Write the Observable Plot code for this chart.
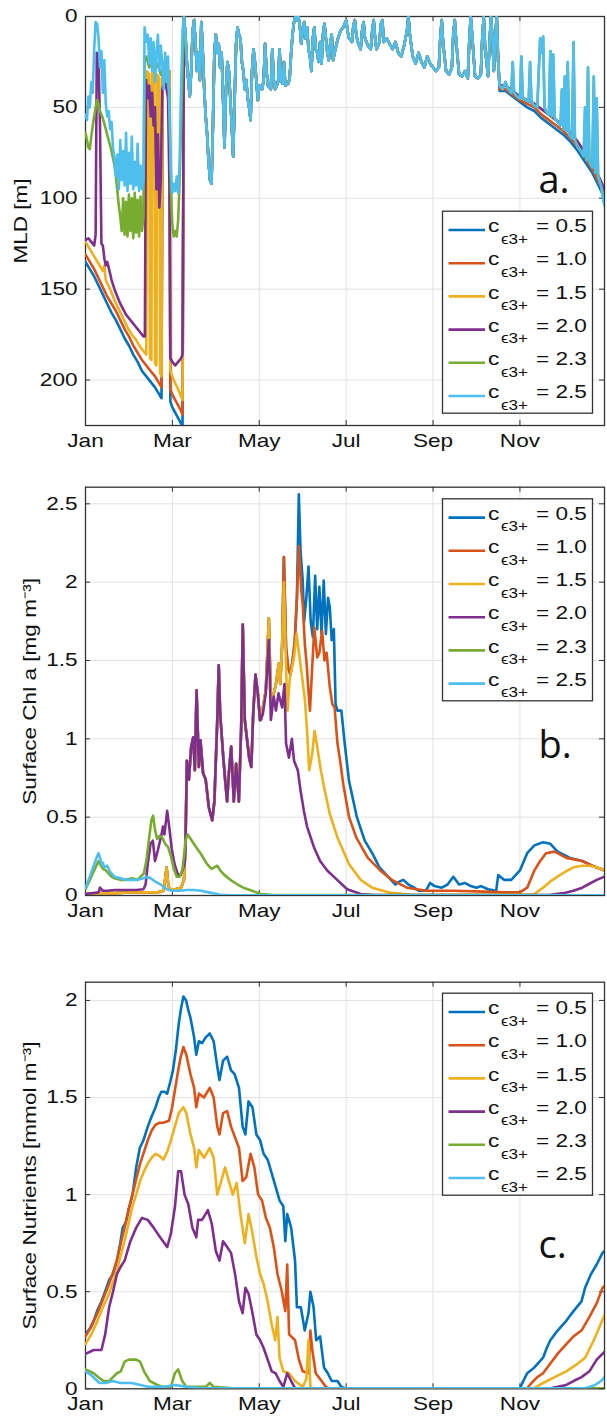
<!DOCTYPE html>
<html><head><meta charset="utf-8">
<script src="https://cdn.jsdelivr.net/npm/d3@7"></script>
<script src="https://cdn.jsdelivr.net/npm/@observablehq/plot@0.6"></script>
<style>
body{margin:0;background:#fff}
#chart{width:607px}
#chart svg{display:block}
</style>
</head><body><div id="chart"></div>
<script>
// ---------- shared axis / legend content ----------
const xTickDays = [0, 60, 120, 180, 240, 300];
const xTickLabels = ["Jan", "Mar", "May", "Jul", "Sep", "Nov"];
const seriesLabels = ["0.5", "1.0", "1.5", "2.0", "2.3", "2.5"];
const seriesColors = ["#0072BD", "#D95319", "#EDB120", "#7E2F8E", "#77AC30", "#4DBEEE"];

// ---------- panel a: MLD [m] (day, value) ----------
const mldEarly05 = [[0,135],[3,139],[6,143],[9,148],[12,153],[15,158],[18,163],[21,167],[24,172],[27,177],[30,181],[33,186],[36,190],[39,195],[42,198],[45,201],[48,204],[51,208],[52.5,210],[53.2,30],[58,30],[58.6,212],[60,215],[62,218],[64,221],[66,224],[67,225]];
const mldEarly10 = [[0,131],[3,135],[6,139],[9,144],[12,149],[15,154],[18,158],[21,162],[24,167],[27,172],[30,176],[33,181],[36,185],[39,189],[42,192],[45,195],[48,198],[51,202],[52.5,204],[53.2,30],[58,30],[58.6,205],[60,208],[62,211],[64,214],[66,217],[67,219]];
const mldEarly15 = [[0,124],[3,128],[6,132],[9,136],[12,140],[13,137],[14,145],[17,150],[20,156],[23,161],[26,166],[29,171],[32,175],[35,178],[38,182],[41,185],[42,186],[42.5,30],[44,32],[44.5,188],[45.5,189],[46,30],[47.5,33],[48,191],[49,192],[49.5,32],[51,34],[51.5,196],[52.5,198],[53.2,30],[58,30],[58.6,195],[60,198],[62,202],[64,205],[66,209],[67,211]];
const mldEarly20 = [[0,123],[2,122],[4,124],[6,126],[7,120],[7.8,20],[9,22],[10,60],[11,125],[12,126],[13,133],[14,137],[15,135],[16,138],[18,145],[20,150],[22,154],[24,158],[26,161],[28,164],[30,166],[32,168],[34,170],[36,172],[38,174],[40,176],[41,176],[41.8,35],[43,45],[44,38],[45,55],[46,42],[47,60],[48,50],[49,95],[50,65],[51,105],[52,90],[53,40],[55,35],[57,45],[58,95],[58.6,188],[60,190],[62,192],[64,190],[66,188],[67,186]];
const mldEarly23 = [[0,64],[1,68],[2,72],[3,73],[4,66],[5,60],[6,55],[7,50],[8,46],[9,48],[10,52],[12,56],[14,62],[16,68],[18,74],[20,82],[21,88],[22,96],[23,104],[24,110],[25,118],[26,100],[27,120],[28,102],[29,121],[30,98],[31,118],[32,100],[33,122],[34,97],[35,119],[36,101],[37,121],[38,99],[39,118],[40,110],[40.8,25],[42,22],[44,28],[46,24],[48,30],[50,26],[52,32],[54,28],[56,34],[58,40],[59,95],[60,115],[61,121],[62,118],[63,121],[64,112],[65,90],[66,60],[67,30]];
const mldEarly25 = [[0,54],[1,57],[2,44],[3,50],[4,36],[5,42],[6,18],[7,3],[8,4],[9,12],[10,28],[11,19],[12,42],[13,24],[14,48],[15,55],[16,52],[17,62],[18,58],[19,72],[20,78],[21,88],[22,76],[23,95],[24,68],[25,90],[26,74],[27,93],[28,64],[29,96],[30,75],[31,92],[32,66],[33,95],[34,80],[35,93],[36,70],[37,96],[38,82],[39,95],[40,90],[40.8,6],[42,14],[43,10],[44,26],[45,12],[46,30],[47,14],[48,36],[49,20],[50,10],[51,30],[52,16],[53,26],[54,40],[55,20],[56,36],[57,22],[58,55],[59,85],[60,97],[61,92],[62,96],[63,88],[64,97],[65,80],[66,40],[67,8]];
const mldSummer = [[68,0],[69,10],[70,25],[71,35],[72,44],[73,30],[74,8],[75,2],[76,15],[77,30],[78,20],[79,35],[80,3],[81,20],[82,40],[83,55],[84,65],[85,80],[86,90],[87,92],[88,60],[89,20],[90,10],[91,20],[92,15],[93,28],[94,20],[95,45],[96,72],[97,40],[98,25],[99,30],[100,45],[101,60],[102,77],[103,45],[104,15],[105,6],[106,10],[107,12],[108,25],[109,30],[110,40],[111,35],[112,45],[113,50],[114,57],[115,30],[116,18],[117,25],[118,35],[119,46],[120,38],[122,40],[123,35],[124,15],[125,30],[126,38],[128,40],[129,18],[130,35],[131,40],[133,36],[134,18],[135,35],[136,37],[137,25],[138,38],[140,37],[141,34],[142,20],[143,10],[144,3],[145,0],[146,2],[147,0],[148,5],[149,15],[150,8],[151,3],[152,12],[153,6],[154,18],[155,22],[156,30],[157,12],[158,6],[159,18],[160,20],[161,25],[162,14],[163,26],[164,10],[165,4],[166,12],[167,20],[168,24],[169,15],[170,10],[171,24],[172,20],[174,13],[176,8],[178,6],[180,2],[181,8],[182,12],[184,14],[185,5],[186,2],[187,10],[188,14],[190,18],[191,8],[192,3],[193,12],[195,16],[197,18],[198,8],[199,2],[200,12],[201,18],[203,14],[204,4],[205,2],[206,14],[208,12],[210,15],[212,18],[214,14],[216,20],[218,22],[220,16],[222,8],[223,0],[224,10],[226,22],[228,26],[230,20],[232,25],[234,28],[236,22],[238,26],[240,28],[242,30],[244,28],[245,12],[246,2],[247,15],[249,30],[251,32],[253,28],[254,10],[255,2],[256,14],[258,32],[260,33],[262,30],[264,34],[265,14],[266,0],[267,10],[269,33],[271,34],[273,32],[274,12],[275,0],[276,18],[278,33],[279,15],[280,0],[281,12],[282,30],[283,10],[284,0],[285,25]];
const mldAutumnCyan = [[286,38],[288,40],[290,36],[292,40],[294,42],[295,25],[296,42],[298,44],[300,45],[301,22],[302,45],[304,46],[306,47],[307,25],[308,47],[310,49],[312,50],[313,30],[314,12],[315,20],[316,11],[317,50],[318,52],[320,54],[321,19],[322,55],[323,21],[324,56],[326,58],[328,60],[329,40],[330,62],[331,33],[332,63],[333,25],[334,65],[336,67],[337,14],[338,68],[340,72],[342,74],[344,77],[345,50],[346,79],[347,28],[348,80],[350,83],[351,33],[352,86],[353,45],[354,88],[356,93],[357,98],[358.4,104]];
const mldAutumnDeepest = [[286,41],[290,41],[295,44],[300,47],[305,50],[310,52],[315,56],[320,59],[325,62],[330,65],[335,69],[340,74],[345,80],[350,86],[355,94],[358.4,100]];
const mldAutumnDeep = [[286,40],[290,40],[295,43],[300,46],[305,48],[310,50],[315,54],[320,57],[325,60],[330,63],[335,67],[340,72],[345,78],[350,84],[355,92],[358.4,98]];
const mldAutumnMid = [[286,38],[290,38],[295,41],[300,44],[305,46],[310,48],[315,51],[320,54],[325,57],[330,60],[335,64],[340,69],[345,75],[350,81],[355,89],[358.4,95]];

// ---------- panel b: Surface Chl a (day, value) ----------
const chlEarlyLow = [[0,0.01],[10,0.015],[20,0.015],[30,0.02],[40,0.02],[50,0.02],[54,0.03],[56,0.18],[57,0.08],[58,0.04],[62,0.04],[66,0.05],[68,0.1]];
const chlEarly20 = [[0,0.01],[5,0.015],[9,0.02],[10,0.05],[12,0.03],[15,0.03],[20,0.035],[25,0.035],[30,0.035],[35,0.035],[40,0.04],[41.5,0.07],[43,0.2],[44.9,0.33],[46.5,0.35],[48,0.22],[50,0.29],[52.5,0.39],[53.5,0.44],[54.5,0.39],[56.4,0.54],[57.8,0.44],[59.5,0.3],[61.5,0.2],[64,0.13],[65.6,0.13],[67,0.16],[68.4,0.2]];
const chlSpring = [[69,0.3],[70,0.86],[71.4,0.74],[73,0.95],[74.4,1.01],[75.5,0.8],[76.7,1.31],[78.3,0.82],[79.4,0.99],[81.2,0.78],[83,0.74],[85.2,0.56],[87.5,0.48],[89,0.6],[91,1.12],[92,1.47],[93,1.16],[95,0.9],[96.5,0.73],[97.8,0.6],[99,0.78],[100.6,0.95],[102.4,0.6],[104,0.84],[105.9,0.6],[107.5,1.07],[108.6,1.73],[110,1.12],[113,0.88],[114.5,0.82],[115.8,1.16],[117.4,1.41],[119,1.29],[120.5,1.12]];
const chlTail20 = [[121,1.12],[122.5,1.16],[124.5,1.29],[126.6,1.63],[128,1.12],[130,1.27],[131.5,1.18],[133.3,1.29],[135.8,1.2],[137.4,1.35],[138.5,0.97],[140.5,0.88],[142.5,1.0],[144,0.86],[146.6,0.8],[148.5,0.67],[150.8,0.54],[153,0.44],[157.7,0.31],[162,0.22],[166.9,0.16],[173.8,0.1],[180.7,0.04],[190,0.01],[200,0.003],[320,0.003],[330,0.015],[337,0.03],[343,0.05],[348,0.075],[353,0.1],[358.4,0.12]];
const chlLateSpring = [[121,1.12],[122.5,1.2],[124.5,1.31],[126.6,1.77],[128,1.25],[130,1.29],[131.5,1.35],[133.5,1.48],[134.5,1.35],[135.8,1.6]];
const chlTail15 = [[137,2.0],[138.5,1.45],[139.5,1.18],[141,1.38],[142.5,1.45],[144,1.52],[145.8,1.67],[147.5,1.54],[149.5,1.4],[151.5,1.25],[153,1.05],[154.5,0.8],[156.5,0.9],[158.2,1.05],[160,0.95],[162.5,0.8],[165,0.68],[168.7,0.52],[174,0.37],[182,0.2],[190,0.1],[198,0.05],[209,0.02],[225,0.005],[305,0.004],[310,0.01],[316,0.05],[321,0.09],[326,0.12],[331,0.15],[337,0.18],[343,0.19],[348,0.19],[353,0.18],[358.4,0.16]];
const chlEarlySummer = [[137,2.16],[138.5,1.58],[140,1.45],[141.5,1.41],[143,1.5],[144.5,1.62],[146,1.9]];
const chlTail10 = [[147.3,2.23],[149,1.95],[150,1.86],[151.5,1.6],[152.7,1.48],[154,1.3],[155,1.18],[156.5,1.45],[158,1.71],[160,1.52],[161.5,1.55],[163.4,1.69],[165,1.5],[166.5,1.55],[168.7,1.33],[170.5,1.22],[172,1.2],[174,0.97],[176,0.85],[178,0.71],[182,0.5],[187,0.37],[195,0.24],[203.5,0.16],[211.5,0.1],[222,0.05],[235.6,0.03],[254,0.03],[275.7,0.025],[289,0.02],[300,0.02],[305,0.05],[310,0.16],[314,0.22],[318,0.27],[324,0.28],[332,0.24],[343,0.22],[350,0.19],[358.4,0.16]];
const chlTail05 = [[147.3,2.56],[148.5,2.2],[150,2.01],[151,1.75],[152.5,1.9],[154,2.1],[155.5,1.75],[157,1.65],[158.6,2.04],[160,1.7],[161.5,1.97],[163,1.67],[164.5,2.01],[166,1.67],[167.5,1.9],[168.7,1.84],[170,1.63],[171.5,1.7],[172.7,1.22],[174,1.18],[176.7,1.18],[179,0.97],[182,0.73],[187.4,0.5],[192.8,0.35],[198,0.27],[203,0.18],[208.8,0.12],[214,0.07],[217,0.09],[219.5,0.1],[223,0.07],[227,0.05],[230,0.03],[235,0.03],[238,0.08],[241,0.06],[246,0.05],[250,0.07],[254,0.12],[258,0.07],[262,0.08],[266,0.06],[270,0.05],[273,0.06],[278,0.04],[283.6,0.03],[285,0.13],[289,0.1],[294,0.1],[300,0.16],[305,0.27],[310,0.32],[316,0.34],[321,0.33],[326,0.28],[334.6,0.24],[343,0.22],[350,0.19],[358.4,0.16]];
const chl23 = [[0,0.04],[3,0.1],[6,0.16],[8,0.2],[9,0.22],[10,0.2],[12,0.17],[14,0.16],[16,0.14],[18,0.12],[20,0.11],[24,0.1],[28,0.1],[32,0.11],[36,0.1],[38,0.12],[40.3,0.14],[42,0.22],[43.7,0.35],[45.5,0.48],[46.7,0.51],[48,0.42],[49.5,0.36],[51,0.38],[53,0.37],[55,0.33],[57,0.31],[59,0.25],[61,0.17],[63,0.12],[65,0.12],[66.8,0.16],[68,0.25],[69,0.35],[70.5,0.39],[72,0.37],[74.8,0.33],[77,0.3],[79.4,0.27],[82,0.23],[84,0.2],[87,0.17],[89,0.18],[91,0.19],[93,0.16],[96,0.13],[100,0.1],[105,0.07],[109,0.05],[115,0.03],[121,0.01],[130,0.003],[358.4,0.002]];
const chl25 = [[0,0.05],[3,0.12],[6,0.2],[8,0.25],[9,0.27],[10,0.24],[11,0.2],[12,0.21],[13,0.18],[15,0.19],[17,0.15],[20,0.12],[24,0.11],[28,0.1],[32,0.1],[36,0.1],[40,0.11],[42.6,0.12],[45,0.11],[48,0.09],[52,0.07],[56,0.04],[60,0.03],[65,0.03],[70,0.035],[75,0.035],[80,0.03],[85,0.02],[93,0.005],[100,0.002],[358.4,0.002]];

// ---------- panel c: Surface Nutrients (day, value) ----------
const nut05 = [[0,0.28],[3,0.31],[5.6,0.35],[8,0.4],[11,0.45],[13.5,0.5],[16.3,0.56],[19,0.59],[21.7,0.66],[24,0.75],[25.7,0.83],[28,0.86],[30,0.93],[32.5,1.0],[35,1.14],[37.5,1.24],[40,1.28],[43,1.35],[45.5,1.4],[48.4,1.45],[50.5,1.5],[52.4,1.53],[54.5,1.53],[56.4,1.52],[58.5,1.58],[60.4,1.64],[62.5,1.75],[64.4,1.88],[66,1.96],[67.6,2.02],[69.5,2.0],[71,1.95],[72.5,1.91],[75,1.81],[76.5,1.72],[78.3,1.79],[80.5,1.78],[83,1.81],[85.8,1.83],[88.5,1.79],[91,1.66],[92.5,1.59],[95,1.69],[97.8,1.71],[100.5,1.64],[103,1.62],[106,1.55],[108.5,1.35],[110.4,1.31],[112.6,1.48],[115.3,1.45],[118,1.31],[120.6,1.28],[123,1.21],[125.8,1.18],[128.6,1.11],[131.3,1.04],[134,0.97],[136.6,0.94],[138,0.76],[139.3,0.9],[142,0.83],[144.7,0.66],[146,0.42],[148.7,0.42],[151.4,0.3],[154,0.39],[155.3,0.5],[157.5,0.42],[159.3,0.25],[162,0.27],[164.7,0.11],[167.3,0.08],[170,0.04],[174,0.04],[176.7,0.01],[179.4,0.003],[300,0.003],[301,0.02],[305,0.08],[310,0.11],[316,0.16],[318.5,0.21],[321,0.25],[326,0.3],[332,0.35],[337,0.4],[342.5,0.45],[345,0.52],[349,0.59],[353,0.64],[357,0.7],[358.4,0.71]];
const nut10 = [[0,0.27],[4,0.32],[8.3,0.39],[12,0.46],[16.3,0.54],[19,0.6],[21.7,0.66],[24.4,0.75],[27,0.83],[29.7,0.92],[32.4,1.0],[35,1.08],[37.7,1.16],[40.4,1.22],[43,1.28],[45.7,1.33],[48.4,1.36],[51,1.37],[53.7,1.37],[57.7,1.38],[59.8,1.45],[61.8,1.54],[64,1.64],[65.8,1.71],[67.6,1.76],[69.6,1.72],[72.5,1.62],[75,1.55],[76.5,1.45],[78.3,1.52],[81.8,1.5],[85.8,1.55],[88.5,1.5],[91,1.35],[92.5,1.31],[95,1.42],[97.8,1.43],[100.5,1.35],[103,1.3],[106,1.24],[108.5,1.07],[111,1.09],[114,1.21],[116.6,1.14],[119.2,1.0],[121.9,0.97],[124.6,0.88],[127.3,0.83],[130,0.73],[132.6,0.59],[135.3,0.51],[138,0.4],[139.3,0.64],[140.6,0.28],[144.7,0.25],[147.4,0.15],[150,0.09],[154,0.08],[155.3,0.3],[156.6,0.2],[159,0.08],[163,0.04],[166,0.01],[168,0.003],[305,0.003],[308,0.03],[312,0.06],[316,0.08],[321,0.13],[326,0.18],[332,0.23],[337,0.27],[342.5,0.3],[348,0.37],[353,0.44],[357,0.52],[358.4,0.53]];
const nut15 = [[0,0.23],[4,0.28],[8.3,0.35],[12,0.42],[16.3,0.49],[19,0.55],[21.7,0.61],[24.4,0.69],[27,0.76],[29.7,0.85],[32.4,0.94],[35,1.0],[37.7,1.07],[40.4,1.12],[43,1.16],[45.7,1.19],[48.4,1.21],[51,1.2],[53.7,1.18],[56.4,1.22],[59,1.28],[61.7,1.35],[64.4,1.42],[67.6,1.45],[69.6,1.42],[72.5,1.31],[75,1.24],[76.5,1.14],[78.3,1.23],[81.8,1.19],[85.8,1.24],[88.5,1.19],[91,1.0],[93.7,1.07],[96.4,1.14],[99,1.07],[101.7,1.0],[104.4,1.06],[107,0.9],[110,0.75],[112.6,0.9],[115.3,0.8],[118,0.68],[120.6,0.59],[123,0.54],[125.8,0.45],[128.6,0.33],[131,0.25],[132.6,0.37],[134,0.16],[136.6,0.09],[140.6,0.08],[144.7,0.04],[150,0.01],[152.5,0.05],[154,0.25],[155.3,0.01],[157,0.003],[310,0.003],[316,0.03],[324,0.06],[332,0.09],[340,0.13],[345,0.16],[351,0.25],[355,0.32],[358.4,0.38]];
const nut20 = [[0,0.18],[5.6,0.2],[11,0.2],[13.6,0.28],[16.3,0.42],[19,0.5],[21.7,0.59],[24.4,0.63],[27,0.66],[31,0.76],[35,0.83],[39,0.88],[43,0.87],[47,0.83],[51.5,0.78],[56.4,0.73],[59,0.8],[61.8,0.94],[64,1.12],[66,1.12],[68.4,1.0],[71,0.95],[73.8,0.83],[76.5,0.78],[77.8,0.87],[80.5,0.87],[84.5,0.92],[87.2,0.85],[90,0.71],[92.5,0.66],[95,0.76],[97.8,0.73],[100.5,0.7],[103.3,0.59],[106,0.45],[108.5,0.39],[110.4,0.52],[112.6,0.49],[115.3,0.39],[118,0.28],[120.6,0.25],[123,0.21],[125.8,0.15],[128.6,0.09],[131.3,0.08],[134,0.04],[136.6,0.01],[139.3,0.08],[142,0.04],[144.7,0.003],[321,0.003],[326,0.01],[332,0.02],[337,0.04],[342.5,0.06],[348,0.09],[353,0.15],[358.4,0.19]];
const nut23 = [[0,0.1],[5.6,0.08],[9,0.06],[12.3,0.04],[16.3,0.04],[19,0.06],[21.7,0.08],[24.4,0.09],[27,0.14],[30,0.15],[32.4,0.15],[35,0.15],[37.7,0.14],[40.4,0.09],[44.4,0.04],[47,0.03],[49.7,0.02],[53.7,0.01],[59,0.01],[61.7,0.08],[64,0.1],[66.8,0.04],[69.6,0.01],[75,0.01],[83,0.01],[85.8,0.03],[88.5,0.01],[102,0.003],[358.4,0.003]];
const nut25 = [[0,0.09],[4,0.07],[9.6,0.03],[14,0.03],[19,0.04],[24,0.03],[32,0.03],[43,0.01],[54,0.01],[62,0.02],[70,0.01],[80,0.003],[345,0.003],[352,0.02],[356,0.04],[358.4,0.06]];

// ---------- helpers ----------
const FONT = "'Liberation Sans', Arial, Helvetica, sans-serif";
const STRETCH = 1.22;
function rowsFrom(parts) {
  const rows = [];
  parts.forEach((segs, k) => {
    for (const seg of segs) for (const [day, value] of seg) rows.push({day, value, series: seriesLabels[k]});
  });
  return rows;
}

function panel(cfg) {
  const W = 607, ML = 85, MR = 3;
  const {height, mt, mb, yDomain, yReverse = false, yTicks, ylabel, ylabelX, tag, tagBaseline, legendTop, rows} = cfg;
  const xDom = [0, 358.4];
  const innerW = W - ML - MR, innerH = height - mt - mb;
  const invX = px => xDom[0] + (px - ML) / innerW * (xDom[1] - xDom[0]);
  const invY = py => yReverse
    ? yDomain[0] + (py - mt) / innerH * (yDomain[1] - yDomain[0])
    : yDomain[0] + (height - mb - py) / innerH * (yDomain[1] - yDomain[0]);
  const legendData = seriesLabels.map((label, i) => ({label, i}));
  const rowGap = 33.2;
  const frameColor = "#333";
  return Plot.plot({
    width: W, height, marginLeft: ML, marginRight: MR, marginTop: mt, marginBottom: mb,
    style: {fontFamily: FONT, fontSize: "18.5px", color: "#111", background: "#fff", overflow: "visible"},
    x: {domain: xDom, ticks: xTickDays, tickFormat: d => xTickLabels[xTickDays.indexOf(d)], tickSize: 0, tickPadding: 8, label: null},
    y: {domain: yDomain, reverse: yReverse, ticks: yTicks, tickFormat: d => String(d), tickSize: 0, tickPadding: 8, label: null},
    color: {domain: seriesLabels, range: seriesColors},
    marks: [
      Plot.ruleX(xTickDays, {stroke: "#e2e2e2", strokeWidth: 1}),
      Plot.ruleY(yTicks, {stroke: "#e2e2e2", strokeWidth: 1}),
      Plot.ruleX(xTickDays, {y1: invY(height - mb), y2: invY(height - mb - 5), stroke: frameColor}),
      Plot.ruleX(xTickDays, {y1: invY(mt), y2: invY(mt + 5), stroke: frameColor}),
      Plot.ruleY(yTicks, {x1: invX(ML), x2: invX(ML + 5), stroke: frameColor}),
      Plot.ruleY(yTicks, {x1: invX(W - MR - 5), x2: invX(W - MR), stroke: frameColor}),
      Plot.frame({stroke: frameColor, strokeWidth: 1.3}),
      Plot.line(rows, {x: "day", y: "value", z: "series", stroke: "series", strokeWidth: 2.6, strokeLinejoin: "round", clip: true}),
      // legend
      Plot.frame({fill: "#fff", stroke: frameColor, strokeWidth: 1.3,
        insetLeft: 442 - ML, insetRight: W - MR - 592, insetTop: legendTop - mt, insetBottom: (height - mb) - (legendTop + 202)}),
      Plot.link(legendData, {x1: invX(448), x2: invX(484.5), y1: d => invY(legendTop + 18.8 + rowGap * d.i), y2: d => invY(legendTop + 18.8 + rowGap * d.i), stroke: "label", strokeWidth: 2.6}),
      Plot.text(legendData, {x: invX(487.5), y: d => invY(legendTop + 21 + rowGap * d.i), text: () => "c", textAnchor: "start", lineAnchor: "bottom", fontSize: 18.5, fill: "#111"}),
      Plot.text(legendData, {x: invX(500.5), y: d => invY(legendTop + 32.5 + rowGap * d.i), text: () => "ϵ3+", textAnchor: "start", lineAnchor: "bottom", fontSize: 14, fill: "#111"}),
      Plot.text(legendData, {x: invX(535.5), y: d => invY(legendTop + 21 + rowGap * d.i), text: d => "= " + d.label, textAnchor: "start", lineAnchor: "bottom", fontSize: 18.5, fill: "#111"}),
      // panel tag and y label
      Plot.text([tag], {x: invX(538), y: invY(tagBaseline), textAnchor: "start", lineAnchor: "bottom", fontSize: 38, fontFamily: "'Open Sans', sans-serif", fontWeight: 500, fill: "#111"}),
      Plot.text([ylabel], {frameAnchor: "left", dx: ylabelX - ML, rotate: -90, fontSize: 18.5, fill: "#111"})
    ]
  });
}

const rowsA = rowsFrom([
  [mldEarly05, mldSummer, mldAutumnDeepest],
  [mldEarly10, mldSummer, mldAutumnDeep],
  [mldEarly15, mldSummer, mldAutumnMid],
  [mldEarly20, mldSummer, mldAutumnMid],
  [mldEarly23, mldSummer, mldAutumnCyan],
  [mldEarly25, mldSummer, mldAutumnCyan]
]);
const rowsB = rowsFrom([
  [chlEarlyLow, chlSpring, chlLateSpring, chlEarlySummer, chlTail05],
  [chlEarlyLow, chlSpring, chlLateSpring, chlEarlySummer, chlTail10],
  [chlEarlyLow, chlSpring, chlLateSpring, chlTail15],
  [chlEarly20, chlSpring, chlTail20],
  [chl23],
  [chl25]
]);
const rowsC = rowsFrom([[nut05], [nut10], [nut15], [nut20], [nut23], [nut25]]);

const chart = document.getElementById("chart");
const panels = [
  panel({height: 470, mt: 16, mb: 45, yDomain: [0, 225], yReverse: true, yTicks: [0, 50, 100, 150, 200],
    ylabel: "MLD [m]", ylabelX: 20.7, tag: "a.", tagBaseline: 192, legendTop: 210.7, rows: rowsA}),
  panel({height: 460, mt: 16.7, mb: 35, yDomain: [0, 2.606], yTicks: [0, 0.5, 1, 1.5, 2, 2.5],
    ylabel: "Surface Chl a [mg m⁻³]", ylabelX: 30, tag: "b.", tagBaseline: 287, legendTop: 28.3, rows: rowsB}),
  panel({height: 487, mt: 51.7, mb: 28.7, yDomain: [0, 2.094], yTicks: [0, 0.5, 1, 1.5, 2],
    ylabel: "Surface Nutrients [mmol m⁻³]", ylabelX: 30, tag: "c.", tagBaseline: 327, legendTop: 62.7, rows: rowsC})
];
function isRotated(el) {
  for (let n = el; n && n.tagName !== "svg"; n = n.parentNode) {
    const tr = n.getAttribute && n.getAttribute("transform");
    if (tr && /rotate/.test(tr)) return true;
  }
  return false;
}
for (const p of panels) {
  chart.appendChild(p);
  for (const t of p.querySelectorAll("text")) {
    if (/^[abc]\.$/.test(t.textContent.trim())) continue;
    if (t.querySelector("tspan")) continue;
    const len = t.getComputedTextLength();
    if (!(len > 0)) continue;
    const L = len * STRETCH;
    if (isRotated(t)) {
      // centre the widened rotated label explicitly
      t.setAttribute("text-anchor", "start");
      t.setAttribute("x", (-L / 2).toFixed(2));
    }
    t.setAttribute("textLength", L.toFixed(2));
    t.setAttribute("lengthAdjust", "spacingAndGlyphs");
  }
}
</script></body></html>
